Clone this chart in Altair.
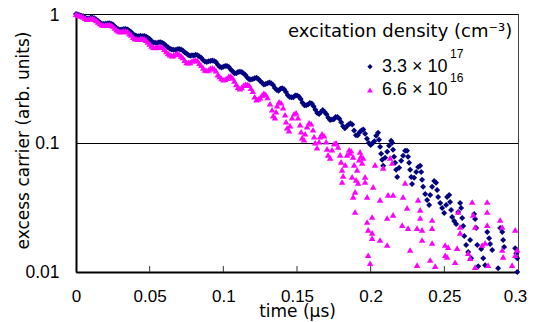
import altair as alt
import pandas as pd

# ---------------- data ----------------
# time grid (us) for the dense, well-resolved part of the decays
t_grid = [0.0, 0.0025, 0.005, 0.0075, 0.01, 0.0125, 0.015, 0.0175, 0.02, 0.0225,
          0.025, 0.0275, 0.03, 0.0325, 0.035, 0.0375, 0.04, 0.0425, 0.045, 0.0475,
          0.05, 0.0525, 0.055, 0.0575, 0.06, 0.0625, 0.065, 0.0675, 0.07, 0.0725,
          0.075, 0.0775, 0.08, 0.0825, 0.085, 0.0875, 0.09, 0.0925, 0.095, 0.0975,
          0.1, 0.1025, 0.105, 0.1075, 0.11, 0.1125, 0.115, 0.1175, 0.12, 0.1225,
          0.125, 0.1275, 0.13, 0.1325, 0.135, 0.1375, 0.14, 0.1425, 0.145, 0.1475,
          0.15, 0.1525, 0.155, 0.1575, 0.16, 0.1625, 0.165, 0.1675, 0.17, 0.1725,
          0.175, 0.1775, 0.18, 0.1825, 0.185, 0.1875, 0.19, 0.1925, 0.195, 0.1975,
          0.2, 0.2025, 0.205]

# intermediate time points (us) read between the grid points
t_mid = [0.00125, 0.00375, 0.00625, 0.00875, 0.01125, 0.01375, 0.01625, 0.01875, 0.02125, 0.02375,
         0.02625, 0.02875, 0.03125, 0.03375, 0.03625, 0.03875, 0.04125, 0.04375, 0.04625, 0.04875,
         0.05125, 0.05375, 0.05625, 0.05875, 0.06125, 0.06375, 0.06625, 0.06875, 0.07125, 0.07375,
         0.07625, 0.07875, 0.08125, 0.08375, 0.08625, 0.08875, 0.09125, 0.09375, 0.09625, 0.09875,
         0.10125, 0.10375, 0.10625, 0.10875, 0.11125, 0.11375, 0.11625, 0.11875, 0.12125, 0.12375,
         0.12625, 0.12875, 0.13125, 0.13375, 0.13625, 0.13875, 0.14125, 0.14375, 0.14625, 0.14875,
         0.15125, 0.15375, 0.15625, 0.15875, 0.16125, 0.16375, 0.16625, 0.16875, 0.17125, 0.17375,
         0.17625, 0.17875, 0.18125, 0.18375, 0.18625, 0.18875, 0.19125, 0.19375, 0.19625, 0.19875,
         0.20125, 0.20375]

# 3.3e17 cm^-3 (navy diamonds), values on t_grid
blue_dense = [1.0, 0.98, 0.96, 0.924, 0.941, 0.926, 0.884, 0.842, 0.839, 0.848,
              0.829, 0.778, 0.755, 0.766, 0.759, 0.721, 0.684, 0.673, 0.673, 0.669,
              0.639, 0.602, 0.596, 0.603, 0.582, 0.553, 0.531, 0.526, 0.535, 0.521,
              0.493, 0.475, 0.477, 0.479, 0.458, 0.429, 0.430, 0.437, 0.424, 0.390,
              0.390, 0.396, 0.372, 0.348, 0.355, 0.355, 0.336, 0.312, 0.313, 0.320,
              0.302, 0.284, 0.290, 0.291, 0.267, 0.254, 0.266, 0.248, 0.227, 0.226,
              0.233, 0.219, 0.196, 0.199, 0.202, 0.181, 0.168, 0.180, 0.167, 0.151,
              0.153, 0.159, 0.145, 0.130, 0.139, 0.139, 0.115, 0.121, 0.127, 0.108,
              0.0964, 0.103, 0.120]

# 3.3e17 cm^-3, values on t_mid
blue_mid = [0.99, 0.97, 0.941, 0.923, 0.936, 0.906, 0.859, 0.836, 0.845, 0.841,
            0.801, 0.763, 0.760, 0.766, 0.740, 0.697, 0.676, 0.677, 0.675, 0.654,
            0.617, 0.598, 0.603, 0.596, 0.566, 0.539, 0.529, 0.534, 0.531, 0.505,
            0.480, 0.478, 0.483, 0.469, 0.440, 0.425, 0.432, 0.433, 0.405, 0.384,
            0.395, 0.388, 0.360, 0.347, 0.356, 0.346, 0.322, 0.311, 0.317, 0.313,
            0.293, 0.287, 0.295, 0.281, 0.258, 0.263, 0.261, 0.235, 0.226, 0.233,
            0.229, 0.205, 0.196, 0.204, 0.193, 0.171, 0.174, 0.174, 0.157, 0.152,
            0.159, 0.154, 0.135, 0.135, 0.142, 0.125, 0.115, 0.125, 0.118, 0.100,
            0.0995, 0.114]

# 3.3e17 cm^-3, noisy tail (t, value)
blue_tail = [(0.2057, 0.106), (0.2064, 0.0934), (0.2071, 0.0824), (0.2078, 0.0741),
             (0.2085, 0.0665), (0.2098, 0.0767), (0.2112, 0.0854), (0.2125, 0.0951),
             (0.2139, 0.104), (0.2146, 0.1004), (0.2152, 0.0886), (0.2159, 0.0781),
             (0.2166, 0.0702), (0.2173, 0.0619), (0.2180, 0.0546), (0.2193, 0.0642),
             (0.2207, 0.0727), (0.2220, 0.0795), (0.2234, 0.0870), (0.2247, 0.0870),
             (0.2254, 0.0781), (0.2261, 0.0702), (0.2268, 0.0619), (0.2275, 0.0546),
             (0.2281, 0.0482), (0.2295, 0.0537), (0.2309, 0.0597), (0.2322, 0.0653),
             (0.2336, 0.0665), (0.2343, 0.0597), (0.2349, 0.0518), (0.2356, 0.0457),
             (0.2370, 0.0403), (0.2383, 0.0362), (0.2397, 0.0331), (0.2404, 0.0396),
             (0.2417, 0.0457), (0.2431, 0.0508), (0.2444, 0.0491), (0.2451, 0.0433),
             (0.2458, 0.0382), (0.2472, 0.0343), (0.2485, 0.0314), (0.2499, 0.0287),
             (0.2512, 0.0331), (0.2519, 0.0382), (0.2533, 0.0396), (0.2539, 0.0349),
             (0.2546, 0.0303), (0.2553, 0.0267), (0.2567, 0.0249), (0.2580, 0.0236),
             (0.2594, 0.0292), (0.2607, 0.0343), (0.2614, 0.0314), (0.2621, 0.0262),
             (0.2628, 0.0227), (0.2635, 0.0190), (0.2648, 0.0162), (0.2662, 0.0143),
             (0.2675, 0.0177), (0.2682, 0.0128), (0.2702, 0.0282), (0.2709, 0.0258),
             (0.2716, 0.0219), (0.2723, 0.0162), (0.2730, 0.0111), (0.2750, 0.0151),
             (0.2764, 0.0128), (0.2777, 0.0113), (0.2791, 0.0204), (0.2804, 0.0183),
             (0.2811, 0.0165), (0.2825, 0.0148), (0.2865, 0.0107), (0.2879, 0.0219),
             (0.2893, 0.0204), (0.2899, 0.0177), (0.2906, 0.0156), (0.2981, 0.0153),
             (0.2988, 0.0140), (0.2995, 0.0128), (0.2995, 0.0100)]

# 6.6e16 cm^-3 (magenta triangles), values on the first part of t_grid
magenta_dense = [0.995, 0.970, 0.948, 0.911, 0.924, 0.913, 0.868, 0.826, 0.821, 0.827,
                 0.807, 0.755, 0.730, 0.739, 0.730, 0.689, 0.645, 0.637, 0.646, 0.627,
                 0.587, 0.554, 0.552, 0.560, 0.534, 0.495, 0.476, 0.488, 0.489, 0.460,
                 0.421, 0.422, 0.438, 0.435, 0.401, 0.368, 0.369, 0.383, 0.364, 0.328,
                 0.309, 0.318, 0.331, 0.303, 0.271, 0.270, 0.285, 0.281, 0.252, 0.217,
                 0.224, 0.243, 0.225]

# 6.6e16 cm^-3, values on the first part of t_mid
magenta_mid = [0.98, 0.96, 0.929, 0.918, 0.923, 0.892, 0.844, 0.818, 0.826, 0.820,
               0.778, 0.739, 0.734, 0.738, 0.705, 0.660, 0.641, 0.644, 0.642, 0.606,
               0.565, 0.550, 0.558, 0.552, 0.512, 0.484, 0.478, 0.495, 0.474, 0.438,
               0.420, 0.432, 0.440, 0.415, 0.381, 0.365, 0.379, 0.377, 0.339, 0.317,
               0.313, 0.330, 0.320, 0.285, 0.264, 0.280, 0.285, 0.266, 0.229, 0.220,
               0.235, 0.238]

# 6.6e16 cm^-3, oscillating arches (t, value)
magenta_arches = [(0.1317, 0.2017), (0.1331, 0.1811), (0.1338, 0.1627), (0.1351, 0.1570),
                  (0.1358, 0.1748), (0.1365, 0.1946), (0.1378, 0.2090), (0.1392, 0.2053),
                  (0.1406, 0.1877), (0.1419, 0.1656), (0.1426, 0.1462), (0.1433, 0.1313),
                  (0.1446, 0.1244), (0.1453, 0.1360), (0.1467, 0.1570), (0.1480, 0.1686),
                  (0.1494, 0.1717), (0.1507, 0.1570), (0.1521, 0.1384), (0.1528, 0.1222),
                  (0.1535, 0.1098), (0.1548, 0.1060), (0.1555, 0.1179), (0.1568, 0.1336),
                  (0.1582, 0.1435), (0.1596, 0.1410), (0.1609, 0.1266), (0.1616, 0.1117),
                  (0.1623, 0.1004), (0.1636, 0.0918), (0.1650, 0.1022), (0.1657, 0.1117),
                  (0.1670, 0.1179), (0.1684, 0.1137), (0.1698, 0.1022), (0.1704, 0.0901),
                  (0.1711, 0.0809), (0.1725, 0.0767), (0.1738, 0.0886), (0.1752, 0.0986),
                  (0.1765, 0.1004), (0.1779, 0.0934), (0.1793, 0.0809), (0.1799, 0.0714),
                  (0.1806, 0.0619), (0.1806, 0.0499), (0.1813, 0.0556), (0.1827, 0.0677),
                  (0.1840, 0.0809), (0.1854, 0.0886), (0.1860, 0.0839), (0.1867, 0.0870),
                  (0.1874, 0.0546), (0.1881, 0.0781), (0.1881, 0.0382), (0.1888, 0.0677),
                  (0.1894, 0.0418), (0.1894, 0.0292), (0.1901, 0.0518), (0.1908, 0.0619),
                  (0.1915, 0.0491), (0.1922, 0.0741), (0.1928, 0.0854), (0.1935, 0.0795),
                  (0.1942, 0.0702), (0.1949, 0.0767)]

# 6.6e16 cm^-3, noisy tail (t, value)
magenta_tail = [(0.1962, 0.0546), (0.1962, 0.0499), (0.1976, 0.0382), (0.1976, 0.0244),
                (0.1983, 0.0212), (0.1983, 0.0135), (0.1996, 0.0117), (0.2010, 0.0267),
                (0.2010, 0.0201), (0.2010, 0.0183), (0.2017, 0.0457), (0.2030, 0.0677),
                (0.2064, 0.0362), (0.2064, 0.0177), (0.2085, 0.0642), (0.2112, 0.0262),
                (0.2112, 0.0162), (0.2118, 0.0396), (0.2132, 0.0767), (0.2146, 0.0702),
                (0.2152, 0.0396), (0.2152, 0.0277), (0.2214, 0.0231), (0.2220, 0.0382),
                (0.2234, 0.0491), (0.2247, 0.0314), (0.2254, 0.0219), (0.2268, 0.0148),
                (0.2315, 0.0219), (0.2315, 0.0113), (0.2322, 0.0362), (0.2336, 0.0303),
                (0.2336, 0.0262), (0.2349, 0.0212), (0.2349, 0.0177), (0.2404, 0.0124),
                (0.2417, 0.0253), (0.2417, 0.0219), (0.2417, 0.0168), (0.2438, 0.0111),
                (0.2506, 0.0162), (0.2506, 0.0135), (0.2519, 0.0131), (0.2526, 0.0156),
                (0.2573, 0.0119), (0.2587, 0.0153), (0.2594, 0.0292), (0.2607, 0.0223),
                (0.2607, 0.0201), (0.2662, 0.0140), (0.2675, 0.0128), (0.2689, 0.0349),
                (0.2696, 0.0277), (0.2709, 0.0223), (0.2709, 0.0109), (0.2757, 0.0162),
                (0.2777, 0.0168), (0.2791, 0.0349), (0.2791, 0.0292), (0.2791, 0.0231),
                (0.2797, 0.0113), (0.2879, 0.0253), (0.2893, 0.0223), (0.2893, 0.0148),
                (0.2899, 0.0131), (0.2960, 0.0113), (0.2981, 0.0212), (0.2981, 0.0135),
                (0.2995, 0.0148)]

series_names = ["3.3e17", "6.6e16"]
series_labels = ["3.3 × 10", "6.6 × 10"]
series_exponents = ["17", "16"]
series_colors = ["#000080", "#ff00ff"]
series_shapes = ["diamond", "triangle-up"]
legend_title = "excitation density (cm⁻³)"
x_ticks = [0, 0.05, 0.1, 0.15, 0.2, 0.25, 0.3]
y_ticks = [0.01, 0.1, 1]

# ---------------- table ----------------
rows = []
for t, v in zip(t_grid, blue_dense):
    rows.append({"t": t, "v": v, "s": series_names[0]})
for t, v in zip(t_mid, blue_mid):
    rows.append({"t": t, "v": v, "s": series_names[0]})
for t, v in blue_tail:
    rows.append({"t": t, "v": v, "s": series_names[0]})
for t, v in zip(t_grid[:len(magenta_dense)], magenta_dense):
    rows.append({"t": t, "v": v, "s": series_names[1]})
for t, v in zip(t_mid[:len(magenta_mid)], magenta_mid):
    rows.append({"t": t, "v": v, "s": series_names[1]})
for t, v in magenta_arches + magenta_tail:
    rows.append({"t": t, "v": v, "s": series_names[1]})
df = pd.DataFrame(rows)

W, H = 442, 258
NUM_FONT = "Liberation Sans"
TXT_FONT = "DejaVu Sans"
SIZE_BLUE, SIZE_MAG = 36, 42

x_enc = alt.X(
    "t:Q",
    scale=alt.Scale(domain=[0, 0.3], nice=False, zero=False),
    axis=alt.Axis(values=x_ticks, format="~g", title="time (μs)",
                  titleFont=TXT_FONT, titleFontSize=17, titleFontWeight="normal",
                  titleColor="black", titleY=44.5, titleBaseline="alphabetic",
                  labelFont=NUM_FONT, labelFontSize=17, labelColor="black",
                  labelPadding=16, labelFlush=False, labelOverlap=False,
                  labelOffset={"condition": {"test": "datum.value >= 0.3", "value": -3},
                               "value": 0},
                  ticks=False, tickSize=0, domainColor="black", domainWidth=2,
                  grid=False),
)
y_enc = alt.Y(
    "v:Q",
    scale=alt.Scale(type="log", domain=[0.01, 1], nice=False),
    axis=alt.Axis(values=y_ticks, format="~g", title="excess carrier (arb. units)",
                  titleFont=TXT_FONT, titleFontSize=17, titleFontWeight="normal",
                  titleColor="black", titleX=-48, titleY=126, titleAngle=270,
                  titleBaseline="alphabetic",
                  labelFont=NUM_FONT, labelFontSize=17.5, labelColor="black",
                  labelPadding=17, labelFlush=False, labelOverlap=False,
                  labelOffset={"condition": {"test": "datum.value >= 1", "value": 1.5},
                               "value": 0},
                  ticks=False, tickSize=0, domainColor="black", domainWidth=2,
                  grid=True, gridColor="black", gridWidth=1, gridOpacity=1),
)

points = alt.Chart(df).mark_point(filled=True, opacity=1, strokeWidth=0).encode(
    x=x_enc,
    y=y_enc,
    color=alt.Color("s:N", scale=alt.Scale(domain=series_names, range=series_colors), legend=None),
    shape=alt.Shape("s:N", scale=alt.Scale(domain=series_names, range=series_shapes), legend=None),
    size=alt.condition(alt.datum.s == series_names[0], alt.value(SIZE_BLUE), alt.value(SIZE_MAG)),
)

tick_df = pd.DataFrame({"t": x_ticks[1:-1]})
ticks = alt.Chart(tick_df).mark_rule(color="#333333", strokeWidth=1).encode(
    x="t:Q", y=alt.value(H), y2=alt.value(H - 6)
)

one = pd.DataFrame({"a": [0]})
legend_layers = [
    alt.Chart(pd.DataFrame({"txt": [legend_title]})).mark_text(
        align="left", baseline="alphabetic", font=TXT_FONT, fontSize=18, color="black"
    ).encode(x=alt.value(212), y=alt.value(22.7), text="txt:N")
]
row_y = [52.7, 76]
for i in range(2):
    legend_layers.append(
        alt.Chart(one).mark_point(filled=True, opacity=1, strokeWidth=0,
                                  shape=series_shapes[i], color=series_colors[i],
                                  size=28 if i == 0 else 34)
        .encode(x=alt.value(294), y=alt.value(row_y[i]))
    )
    legend_layers.append(
        alt.Chart(pd.DataFrame({"txt": [series_labels[i]]})).mark_text(
            align="left", baseline="alphabetic", font=NUM_FONT, fontSize=18, color="black"
        ).encode(x=alt.value(306), y=alt.value(row_y[i] + 5), text="txt:N")
    )
    legend_layers.append(
        alt.Chart(pd.DataFrame({"txt": [series_exponents[i]]})).mark_text(
            align="left", baseline="alphabetic", font=NUM_FONT, fontSize=12, color="black"
        ).encode(x=alt.value(374), y=alt.value(row_y[i] - 8.5), text="txt:N")
    )

chart = alt.layer(points, ticks, *legend_layers).properties(
    width=W,
    height=H,
    padding={"left": 68, "top": 6, "right": 9, "bottom": 50},
    autosize=alt.AutoSizeParams(type="none"),
).configure_view(stroke="#444444", strokeWidth=1)

chart.save("out.html", embed_options={"renderer": "svg", "actions": False})
